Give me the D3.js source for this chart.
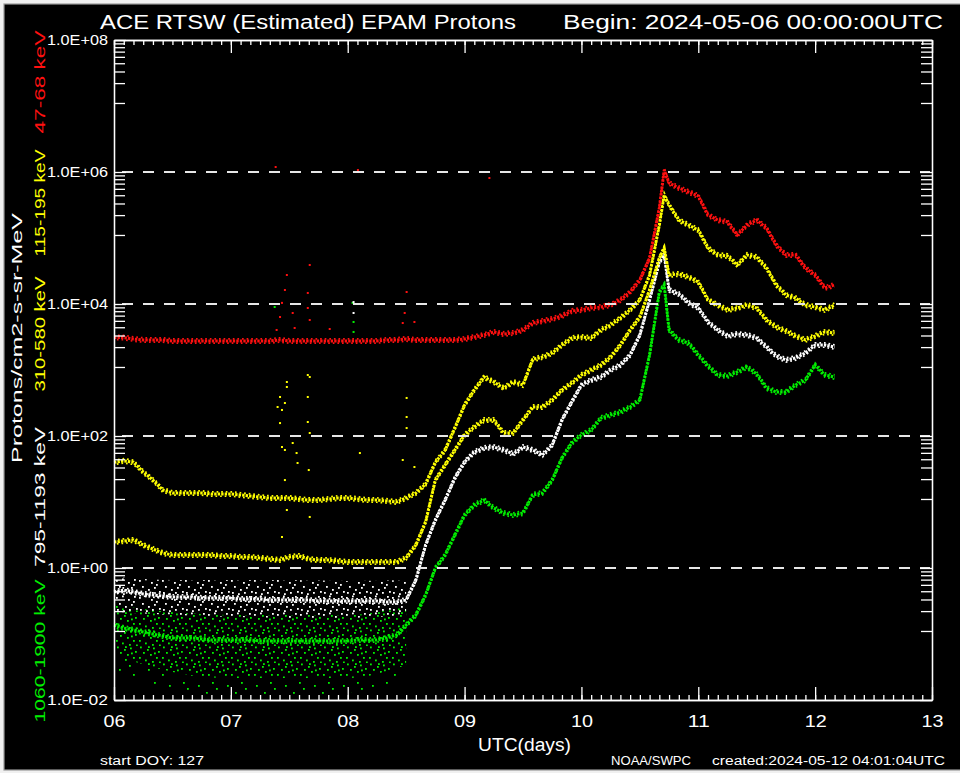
<!DOCTYPE html>
<html><head><meta charset="utf-8">
<script src="https://cdn.jsdelivr.net/npm/d3@7"></script>
<style>body{margin:0;background:#fff}svg{display:block}</style>
</head><body><svg id="c" width="960" height="773"></svg>
<script>
// ---- data (hours after 2024-05-06 00:00 UTC; flux in protons/cm2-s-sr-MeV) ----
const hours = [0,2,4,6,8,10,12,14,16,18,20,22,24,26,28,30,32,34,36,38,40,42,44,46,48,50,52,54,56,58,60,62,64,66,68,70,72,74,76,78,80,82,84,86,88,90,92,94,96,98,100,102,104,106,108,110,112,113,114,116,118,120,122,124,126,128,130,132,134,136,138,140,142,144,146,148];
const p47_68 = [3.1e3,3.1e3,2.95e3,2.85e3,2.85e3,2.85e3,2.75e3,2.75e3,2.75e3,2.75e3,2.75e3,2.75e3,2.75e3,2.75e3,2.75e3,2.75e3,2.75e3,2.85e3,2.75e3,2.75e3,2.75e3,2.75e3,2.75e3,2.75e3,2.75e3,2.75e3,2.75e3,2.75e3,2.85e3,2.85e3,2.95e3,2.85e3,2.85e3,2.85e3,2.85e3,2.85e3,2.95e3,3.16e3,3.39e3,3.77e3,3.51e3,3.64e3,4.04e3,5.15e3,5.53e3,5.93e3,6.58e3,7.83e3,8.11e3,8.7e3,9.0e3,9.66e3,1.15e4,1.52e4,2.31e4,4.98e4,2.85e5,1.07e6,6.81e5,5.72e5,4.98e5,4.33e5,2.23e5,1.87e5,1.75e5,1.11e5,1.57e5,1.87e5,1.42e5,7.83e4,5.53e4,5.53e4,3.51e4,2.75e4,1.75e4,1.94e4];
const p115_195 = [40,42,40,28.5,21.5,15.2,13.7,13.7,13.7,13.7,13.2,13.2,13.2,12.8,12.3,11.9,11.5,11.5,11.5,11.1,10.7,10.7,11.1,11.5,11.5,11.1,10.7,10.7,10.4,10.0,11.5,13.7,18.7,40,61,132,295,498,783,658,534,658,593,1.45e3,1.57e3,1.81e3,2.39e3,3.05e3,3.16e3,3.05e3,4.04e3,4.81e3,6.14e3,8.11e3,1.15e4,2.75e4,1.57e5,4.48e5,3.16e5,1.87e5,1.57e5,1.32e5,7.05e4,5.53e4,5.34e4,3.9e4,5.53e4,5.15e4,3.51e4,1.94e4,1.37e4,1.23e4,9.66e3,9.0e3,8.11e3,9.66e3];
const p310_580 = [2.48,2.56,2.66,2.23,1.94,1.69,1.57,1.57,1.57,1.57,1.57,1.52,1.52,1.47,1.47,1.42,1.37,1.32,1.47,1.52,1.37,1.32,1.32,1.28,1.23,1.23,1.23,1.23,1.23,1.23,1.42,2.23,4.98,21.5,36.4,61,104,137,175,175,111,111,175,275,275,351,498,635,840,1.0e3,1.19e3,1.57e3,2.39e3,4.04e3,6.35e3,1.63e4,4.98e4,7.05e4,2.75e4,2.85e4,2.56e4,2.15e4,1.15e4,9.66e3,8.11e3,8.7e3,9.66e3,8.7e3,5.72e3,4.48e3,3.9e3,3.27e3,2.85e3,3.27e3,3.77e3,3.64e3];
const p795_1193 = [0.433,0.464,0.433,0.404,0.390,0.376,0.364,0.364,0.364,0.351,0.351,0.351,0.351,0.339,0.339,0.339,0.327,0.327,0.327,0.327,0.327,0.316,0.316,0.316,0.316,0.316,0.316,0.316,0.305,0.305,0.327,0.658,2.23,5.34,10.7,23.1,40.4,57.2,65.8,68.1,61.4,53.4,68.1,61.4,51.5,73.1,175,327,593,705,783,1.0e3,1.19e3,1.69e3,3.39e3,1.15e4,4.33e4,5.53e4,1.63e4,1.42e4,1.04e4,8.7e3,5.34e3,4.04e3,3.27e3,3.51e3,3.39e3,3.05e3,2.23e3,1.63e3,1.42e3,1.52e3,1.81e3,2.39e3,2.39e3,2.23e3];
const p1060_1900 = [0.137,0.123,0.115,0.107,0.100,0.0933,0.087,0.087,0.087,0.084,0.0811,0.0811,0.0811,0.0811,0.0811,0.0783,0.0783,0.0783,0.0783,0.0783,0.0783,0.0783,0.0783,0.0783,0.0783,0.0811,0.0811,0.0811,0.087,0.0966,0.137,0.194,0.390,1.0,1.57,3.16,6.35,9.0,10.7,8.11,6.81,6.35,6.81,12.8,13.7,21.5,46.4,78.3,104,123,187,208,231,275,351,1.69e3,1.52e4,1.94e4,4.04e3,2.85e3,2.56e3,1.69e3,1.15e3,840,811,933,1.11e3,870,534,464,464,593,705,1.19e3,840,783];

// spread of the noisy quiet-time bands (edges of the dot cloud)
const quietHours = [0,12,24,36,48,60];
const whiteHi = [0.731,0.658,0.658,0.658,0.635,0.658];
const whiteLo = [0.215,0.194,0.181,0.175,0.175,0.194];
const greenHi = [0.275,0.215,0.194,0.194,0.194,0.275];
const greenLo = [0.048,0.0266,0.0215,0.0215,0.0215,0.0339];
const greenTail = [0.03,0.014,0.012,0.012,0.013,0.02];

// isolated outlier dots
const redSpikeHours = [33.2,33.4,34.1,34.5,35.1,35.5,36.7,37.1,39.8,39.8,40.2,40.2,44.3,50.1,59.3,59.7,60.1,61.7,77.1];
const redSpikeValues = [1.19e6,4.04e3,6.35e3,1.04e4,1.63e4,2.75e4,7.31e3,4.33e3,1.47e4,8.7e3,3.9e4,5.72e3,4.18e3,1.07e6,5.15e3,7.31e3,1.52e4,5.34e3,8.11e5];
const yellowSpikeHours = [39.8,40.2,35.5,35.5,34.1,35.1,33.6,34.5,34.1,39.8,39.8,40.2,60.1,60.1,60.1,34.5,36.7,37.5,37.7,35.1,50.5,59.3,61.7,34.5,40.2,35.1,35.5,40.0];
const yellowSpikeValues = [840,783,658,553,390,316,275,248,157,390,163,111,377,194,132,68.1,78.3,55.2,39,61.4,55.2,43.3,33.9,2.95,5.93,21.5,7.56,30.5];
const greenSpikeHours = [33.0,49.0,49.2,49.2];
const greenSpikeValues = [9.0e3,1.04e4,5.34e3,3.77e3];
const whiteSpikeHours = [49.2,49.2];
const whiteSpikeValues = [1.07e4,7.31e3];

const dayHours = [0,24,48,72,96,120,144,168];
const dayLabels = ["06","07","08","09","10","11","12","13"];
const yMajor = [1e-2,1e0,1e2,1e4,1e6,1e8];
const yLabels = ["1.0E-02","1.0E+00","1.0E+02","1.0E+04","1.0E+06","1.0E+08"];
const gridValues = [1e0,1e2,1e4,1e6];

const seriesNames = ["1060-1900 keV","795-1193 keV","310-580 keV","115-195 keV","47-68 keV"];
const seriesColors = ["#00ee00","#ffffff","#ffff00","#ffff00","#ff1010"];
const seriesData = [p1060_1900,p795_1193,p310_580,p115_195,p47_68];

// ---- drawing ----
const svg = d3.select('#c');
const L=114,R=932,T=40,B=700;
const x = d3.scaleLinear().domain([0,168]).range([L,R]);
const y = d3.scaleLog().domain([1e-2,1e8]).range([B,T]);
const FONT = "'Liberation Sans', 'DejaVu Sans', sans-serif";

svg.append('rect').attr('width',960).attr('height',773).attr('fill','#f0f0f0');
svg.append('rect').attr('x',4).attr('y',4).attr('width',960).attr('height',766)
  .attr('fill','#000').attr('stroke','#9a9a9a').attr('stroke-width',1.2);

const defs = svg.append('defs');
function speckle(id, color, w, h, pts){
  const p = defs.append('pattern').attr('id',id).attr('patternUnits','userSpaceOnUse').attr('width',w).attr('height',h);
  pts.forEach(([a,b])=>p.append('rect').attr('x',a).attr('y',b).attr('width',1.8).attr('height',1.8).attr('fill',color));
}
speckle('spW','#ffffff',23,17,[[1,2],[7,0.5],[13,4],[19,1],[4,8],[10,11],[16,9],[21,13],[2,14],[8,15.2],[14,14],[18,6]]);
speckle('spG','#00ee00',23,17,[[2,0.5],[9,3],[15,1.5],[20,5],[5,6],[12,8],[18,11],[1,11],[7,13.5],[14,15],[21,15.5],[10,0.2],[16,6.5]]);
speckle('spG2','#00ee00',29,23,[[3,2],[17,7],[9,15],[24,18],[13,21]]);

// quiet-time scatter bands
const band = d3.area().x((d,i)=>x(quietHours[i])).curve(d3.curveMonotoneX);
svg.append('path').datum(quietHours)
  .attr('d', band.y0((d,i)=>y(greenTail[i])).y1((d,i)=>y(greenLo[i])))
  .attr('fill','url(#spG2)');
svg.append('path').datum(quietHours)
  .attr('d', band.y0((d,i)=>y(greenLo[i])).y1((d,i)=>y(greenHi[i])))
  .attr('fill','url(#spG)');
svg.append('path').datum(quietHours)
  .attr('d', band.y0((d,i)=>y(whiteLo[i])).y1((d,i)=>y(whiteHi[i])))
  .attr('fill','url(#spW)');

// series as dotted bands
const line = d3.line().x((d,i)=>x(hours[i])).y(d=>y(d));
seriesData.forEach((s,k)=>{
  const g = svg.append('g');
  g.append('path').datum(s).attr('d',line).attr('fill','none')
    .attr('stroke',seriesColors[k]).attr('stroke-width',3)
    .attr('stroke-dasharray','2.4,1.1');
  [[-2.2,0.6],[2.2,1.7]].forEach(([dy,off])=>{
    g.append('path').datum(s).attr('d',line).attr('fill','none')
      .attr('transform',`translate(0,${dy})`)
      .attr('stroke',seriesColors[k]).attr('stroke-width',1.7)
      .attr('stroke-dasharray','1.7,2.9').attr('stroke-dashoffset',off);
  });
});

function spikes(hs, vs, color){
  svg.append('g').selectAll('rect').data(vs).join('rect')
    .attr('x',(d,i)=>x(hs[i])-1).attr('y',d=>y(d)-1).attr('width',2).attr('height',2).attr('fill',color);
}
spikes(redSpikeHours, redSpikeValues, '#ff1010');
spikes(yellowSpikeHours, yellowSpikeValues, '#ffff00');
spikes(greenSpikeHours, greenSpikeValues, '#00ee00');
spikes(whiteSpikeHours, whiteSpikeValues, '#ffffff');

// dashed reference lines
svg.append('g').selectAll('line').data(gridValues).join('line')
  .attr('x1',L+8).attr('x2',R-2).attr('y1',d=>y(d)).attr('y2',d=>y(d))
  .attr('stroke','#e6e6e6').attr('stroke-width',2).attr('stroke-dasharray','11,10');

// axes
function styleAxis(g){
  g.selectAll('path,line').attr('stroke','#fff').attr('stroke-width',1.3);
  g.selectAll('text').attr('fill','#fff').attr('font-family',FONT);
}
const minorHours = d3.range(0,169,2);
const yMinor = [];
[1e0,1e2,1e4,1e6,1e8].forEach(top=>{ for(let k=1;k<=8;k++) yMinor.push(top/9*k); });

svg.append('g').attr('transform',`translate(0,${B})`)
  .call(d3.axisBottom(x).tickValues(minorHours).tickSize(-5).tickSizeOuter(0).tickFormat(''))
  .call(styleAxis);
const xb = svg.append('g').attr('transform',`translate(0,${B})`)
  .call(d3.axisBottom(x).tickValues(dayHours).tickSize(-13).tickSizeOuter(0).tickPadding(15).tickFormat((d,i)=>dayLabels[i]))
  .call(styleAxis);
xb.selectAll('text').attr('font-size',17).attr('textLength',22).attr('lengthAdjust','spacingAndGlyphs');
svg.append('g').attr('transform',`translate(0,${T})`)
  .call(d3.axisTop(x).tickValues(minorHours).tickSize(-5).tickSizeOuter(0).tickFormat(''))
  .call(styleAxis);
svg.append('g').attr('transform',`translate(0,${T})`)
  .call(d3.axisTop(x).tickValues(dayHours).tickSize(-13).tickSizeOuter(0).tickFormat(''))
  .call(styleAxis);
svg.append('g').attr('transform',`translate(${L},0)`)
  .call(d3.axisLeft(y).tickValues(yMinor).tickSize(-11).tickSizeOuter(0).tickFormat(''))
  .call(styleAxis);
const yl = svg.append('g').attr('transform',`translate(${L},0)`)
  .call(d3.axisLeft(y).tickValues(yMajor).tickSize(-12).tickSizeOuter(0).tickPadding(6).tickFormat((d,i)=>yLabels[i]))
  .call(styleAxis);
yl.selectAll('text').attr('font-size',14).attr('textLength',61).attr('lengthAdjust','spacingAndGlyphs');
svg.append('g').attr('transform',`translate(${R},0)`)
  .call(d3.axisRight(y).tickValues(yMinor).tickSize(-11).tickSizeOuter(0).tickFormat(''))
  .call(styleAxis);
svg.append('g').attr('transform',`translate(${R},0)`)
  .call(d3.axisRight(y).tickValues(yMajor).tickSize(-12).tickSizeOuter(0).tickFormat(''))
  .call(styleAxis);

// texts
function txt(s, tx, ty, size, len, color, anchor, rot){
  const t = svg.append('text').text(s).attr('font-family',FONT).attr('font-size',size)
    .attr('fill',color||'#fff').attr('textLength',len).attr('lengthAdjust','spacingAndGlyphs');
  if(rot){
    t.attr('transform',`translate(${tx},${ty}) rotate(-90)`).attr('text-anchor','middle').attr('dominant-baseline','central');
  } else {
    t.attr('x',tx).attr('y',ty).attr('text-anchor',anchor||'start');
  }
  return t;
}
txt('ACE RTSW (Estimated) EPAM Protons',100,29,20,416);
txt('Begin: 2024-05-06 00:00:00UTC',563,29,20,380);
txt('UTC(days)',478,751,18,93);
txt('start DOY:  127',100,765,12,104);
txt('NOAA/SWPC',611,765,12,80);
txt('created:2024-05-12 04:01:04UTC',712,765,12,233);

txt('Protons/cm2-s-sr-MeV',16,338,15,250,'#fff',null,true);
const labelPos = [[651,143],[497,140],[334,115],[203,107],[82,103]];
seriesNames.forEach((n,k)=>txt(n,39,labelPos[k][0],15,labelPos[k][1],seriesColors[k],null,true));
</script></body></html>
